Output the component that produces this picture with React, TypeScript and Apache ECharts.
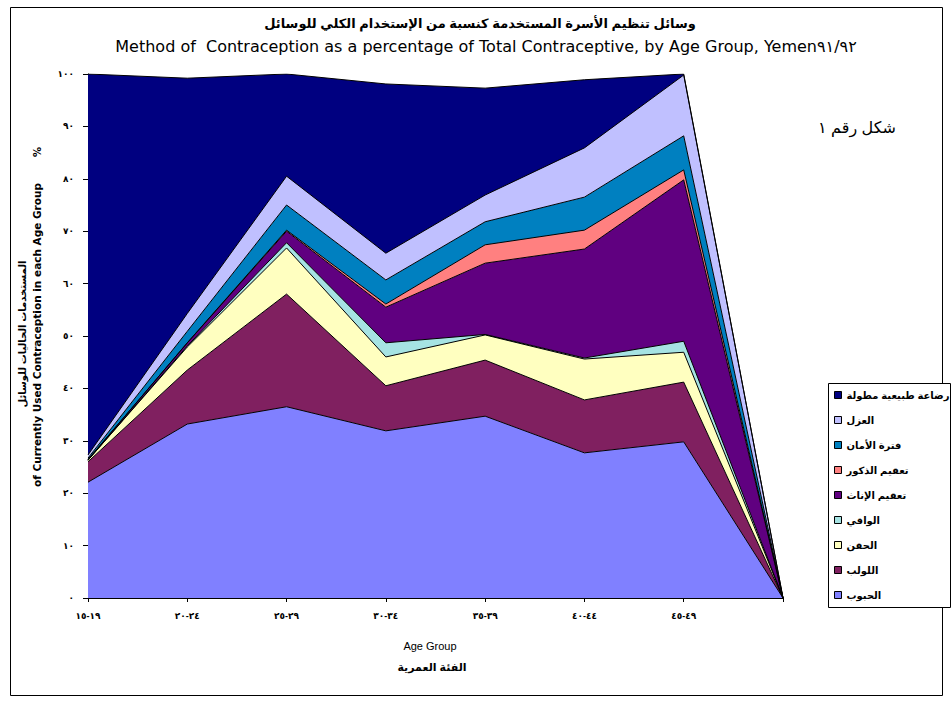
import { useEffect, useRef } from 'react';
import * as echarts from 'echarts';

const categories = ['١٥-١٩', '٢٠-٢٤', '٢٥-٢٩', '٣٠-٣٤', '٣٥-٣٩', '٤٠-٤٤', '٤٥-٤٩', ''];
const yTickLabels = ['٠', '١٠', '٢٠', '٣٠', '٤٠', '٥٠', '٦٠', '٧٠', '٨٠', '٩٠', '١٠٠'];

const seriesNames = [
  'الحبوب',
  'اللولب',
  'الحقن',
  'الواقي',
  'تعقيم الإناث',
  'تعقيم الذكور',
  'فترة الأمان',
  'العزل',
  'رضاعة طبيعية مطولة',
];
const seriesColors = ['#8080FF', '#802060', '#FFFFC0', '#A6E3E3', '#600080', '#FF8080', '#0080C0', '#C0C0FF', '#000080'];

const pill = [22.1, 33.2, 36.5, 31.9, 34.7, 27.7, 29.8, 0];
const iud = [3.9, 10.3, 21.5, 8.6, 10.7, 10.1, 11.4, 0];
const injection = [0.3, 4.4, 8.8, 5.5, 4.8, 7.8, 5.7, 0];
const condom = [0, 0.2, 1.0, 2.7, 0.1, 0.2, 2.1, 0];
const femaleSterilization = [0.1, 0.6, 2.2, 6.8, 13.6, 20.8, 30.8, 0];
const maleSterilization = [0, 0, 0.2, 0.6, 3.5, 3.6, 1.9, 0];
const safePeriod = [0.3, 2.2, 4.8, 4.6, 4.4, 6.3, 6.5, 0];
const withdrawal = [0.6, 3.4, 5.5, 5.1, 5.1, 9.4, 11.6, 0];
const breastfeeding = [72.7, 44.9, 19.5, 32.3, 20.4, 13.0, 0.2, 0];

const seriesValues = [pill, iud, injection, condom, femaleSterilization, maleSterilization, safePeriod, withdrawal, breastfeeding];

const titleAr = 'وسائل تنظيم الأسرة المستخدمة كنسبة من الإستخدام الكلي للوسائل';
const titleEn = 'Method of  Contraception as a percentage of Total Contraceptive, by Age Group, Yemen٩١/٩٢';
const figureLabel = 'شكل رقم ١';
const yTitleEn = 'of Currently Used Contraception in each Age Group';
const yTitleAr = 'المستخدمات الحاليات للوسائل';
const xTitleEn = 'Age Group';
const xTitleAr = 'الفئة العمرية';

const FONT = '"Liberation Sans", Arial, "DejaVu Sans", sans-serif';
const WIDE = '"DejaVu Sans", "Liberation Sans", sans-serif';

export default function App() {
  const ref = useRef<HTMLDivElement>(null);
  useEffect(() => {
    const chart = echarts.init(ref.current!, null, { renderer: 'svg' });
    chart.setOption({
      animation: false,
      backgroundColor: '#fff',
      textStyle: { fontFamily: FONT },
      grid: { left: 88, right: 169, top: 74, bottom: 106, containLabel: false },
      legend: {
        orient: 'vertical',
        left: 834,
        top: 383,
        padding: [7, 5, 7, 0],
        icon: 'rect',
        itemWidth: 7,
        itemHeight: 7,
        itemGap: 15,
        data: [...seriesNames].reverse(),
        itemStyle: { borderColor: '#000', borderWidth: 1 },
        textStyle: { color: '#000', fontSize: 10, fontWeight: 'bold', lineHeight: 10, fontFamily: FONT },
      },
      xAxis: {
        type: 'category',
        data: categories,
        boundaryGap: false,
        axisLine: { lineStyle: { color: '#000', width: 1 } },
        axisTick: { show: true, interval: 0, length: 4, lineStyle: { color: '#000' } },
        axisLabel: {
          interval: 0,
          margin: 13,
          color: '#000',
          fontSize: 9,
          fontWeight: 'bold',
          formatter: (v: string) => v.replace('-', '\u200E-\u200E'),
        },
        splitLine: { show: false },
      },
      yAxis: {
        type: 'value',
        min: 0,
        max: 100,
        interval: 10,
        axisLine: { show: true, lineStyle: { color: '#000', width: 1 } },
        axisTick: { show: true, length: 5, lineStyle: { color: '#000' } },
        axisLabel: {
          margin: 14,
          color: '#000',
          fontSize: 9,
          fontWeight: 'bold',
          formatter: (v: number) => yTickLabels[Math.round(v / 10)],
        },
        splitLine: { show: false },
      },
      series: seriesNames.map((name, i) => ({
        name,
        type: 'line',
        stack: 'total',
        data: seriesValues[i],
        symbol: 'none',
        showSymbol: false,
        lineStyle: { color: '#000', width: 1 },
        itemStyle: { color: seriesColors[i], borderColor: '#000', borderWidth: 1 },
        areaStyle: { color: seriesColors[i], opacity: 1 },
        emphasis: { disabled: true },
      })),
      graphic: [
        {
          type: 'rect',
          silent: true,
          z: -10,
          shape: { x: 10.5, y: 7.5, width: 932, height: 688 },
          style: { fill: 'none', stroke: '#000', lineWidth: 1 },
        },
        {
          type: 'rect',
          silent: true,
          z: -5,
          shape: { x: 828.5, y: 383.5, width: 122, height: 224 },
          style: { fill: '#fff', stroke: '#000', lineWidth: 1 },
        },
        {
          type: 'text',
          x: 480,
          y: 23,
          style: { text: titleAr, fill: '#000', font: 'bold 13px ' + FONT, textAlign: 'center', textVerticalAlign: 'middle' },
        },
        {
          type: 'text',
          x: 486,
          y: 46,
          style: { text: titleEn, fill: '#000', font: '16px ' + WIDE, textAlign: 'center', textVerticalAlign: 'middle' },
        },
        {
          type: 'text',
          x: 857,
          y: 127,
          style: { text: figureLabel, fill: '#000', font: '16px ' + FONT, textAlign: 'center', textVerticalAlign: 'middle' },
        },
        {
          type: 'text',
          x: 37,
          y: 335,
          rotation: Math.PI / 2,
          style: { text: yTitleEn, fill: '#000', font: 'bold 10.5px ' + WIDE, textAlign: 'center', textVerticalAlign: 'middle' },
        },
        {
          type: 'text',
          x: 37,
          y: 152,
          rotation: Math.PI / 2,
          style: { text: '%', fill: '#000', font: 'bold 10px ' + WIDE, textAlign: 'center', textVerticalAlign: 'middle' },
        },
        {
          type: 'text',
          x: 22,
          y: 334,
          rotation: Math.PI / 2,
          style: { text: yTitleAr, fill: '#000', font: 'bold 10px ' + FONT, textAlign: 'center', textVerticalAlign: 'middle' },
        },
        {
          type: 'text',
          x: 430,
          y: 646,
          style: { text: xTitleEn, fill: '#000', font: '11px ' + FONT, textAlign: 'center', textVerticalAlign: 'middle' },
        },
        {
          type: 'text',
          x: 432,
          y: 667,
          style: { text: xTitleAr, fill: '#000', font: 'bold 11px ' + FONT, textAlign: 'center', textVerticalAlign: 'middle' },
        },
      ],
    });
    return () => chart.dispose();
  }, []);
  return (
    <div
      ref={ref}
      style={{ position: 'absolute', left: 0, top: 0, width: 952, height: 704, background: '#fff' }}
    />
  );
}
